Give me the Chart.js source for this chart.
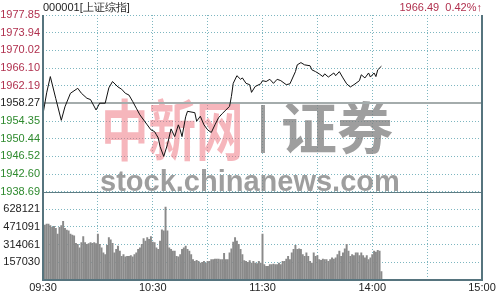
<!DOCTYPE html>
<html>
<head>
<meta charset="utf-8">
<script src="https://cdn.jsdelivr.net/npm/chart.js@4.4.1/dist/chart.umd.min.js"></script>
<style>
  html, body { margin: 0; padding: 0; background: #fff; }
  #wrap { position: relative; width: 500px; height: 293px; overflow: hidden; }
  #c { position: absolute; left: 0; top: 0; }
  .hdr { position: absolute; top: 1px; font: 11px "Liberation Sans", Arial, sans-serif; white-space: pre; line-height: 13px; }
</style>
</head>
<body>
<div id="wrap">
  <canvas id="c" width="500" height="293"></canvas>
  <div class="hdr" style="left:43px;color:#222">000001[上证综指]</div>
  <div class="hdr" style="right:18px;color:#b0304e">1966.49  0.42%↑</div>
</div>
<script>
// axis ticks
const priceTicks = [1938.69, 1942.60, 1946.52, 1950.44, 1954.35, 1958.27, 1962.19, 1966.10, 1970.02, 1973.94, 1977.85];
const prevClose = 1958.27;
const volTicks = [0, 157030, 314061, 471091, 628121, 785151];
const volTickLabels = ['', '157030', '314061', '471091', '628121', ''];
const timeTicks = [0, 30, 60, 90, 120, 150, 180, 210, 240];
const timeLabels = ['09:30', '', '10:30', '', '11:30', '', '14:00', '', '15:00'];

// price line (minutes after 09:30, trading time)
const priceMinutes = [0, 2, 4, 7, 10, 12, 15, 19, 21, 24, 26, 29, 31, 34, 36, 38, 41, 43, 45, 47,
  49, 51, 53, 57, 59, 61, 62, 63, 64, 66, 68, 70, 72, 74, 75, 76, 78, 79, 83, 84,
  86, 88, 90, 92, 94, 96, 98, 100, 102, 103, 104, 106, 108, 109, 111, 113, 114, 116, 119, 120,
  122, 124, 126, 128, 130, 133, 135, 138, 139, 141, 143, 146, 147, 149, 151, 153, 154, 156, 159, 160,
  162, 164, 166, 168, 170, 173, 174, 176, 178, 179, 181, 182, 183, 185];
const priceValues = [1955.9, 1960.6, 1964.2, 1959.3, 1954.5, 1957.5, 1960.5, 1961.6, 1960.5, 1959.4,
  1959.1, 1956.8, 1958.3, 1958.3, 1961.7, 1963.1, 1961.9, 1961.4, 1960.5, 1960.1,
  1958.7, 1957.2, 1955.7, 1953.5, 1952.4, 1952.0, 1951.3, 1950.6, 1948.7, 1946.5,
  1949.1, 1952.6, 1950.9, 1953.5, 1952.4, 1950.9, 1955.3, 1956.5, 1956.2, 1954.3,
  1955.4, 1953.5, 1952.4, 1951.8, 1953.5, 1955.1, 1956.0, 1956.8, 1957.6, 1959.8,
  1962.7, 1964.4, 1963.6, 1963.9, 1962.7, 1962.4, 1960.7, 1962.0, 1962.6, 1963.3,
  1963.1, 1963.6, 1962.7, 1963.6, 1963.3, 1962.4, 1962.6, 1965.3, 1966.8, 1967.3,
  1966.8, 1966.6, 1965.7, 1965.3, 1964.8, 1964.2, 1964.8, 1964.1, 1965.0, 1964.4,
  1965.3, 1963.9, 1962.6, 1961.9, 1962.4, 1963.3, 1964.6, 1963.9, 1965.0, 1964.1,
  1965.0, 1964.2, 1965.7, 1966.5];

// volume per minute, in thousands (index = minute)
const volumesK = [498, 489, 498, 498, 483, 468, 477, 459, 408, 468,
  483, 522, 459, 444, 438, 408, 399, 393, 326, 317,
  287, 332, 387, 332, 317, 323, 332, 326, 332, 323,
  408, 317, 287, 242, 227, 308, 378, 356, 326, 242,
  272, 302, 257, 211, 227, 205, 211, 211, 217, 205,
  227, 242, 272, 287, 317, 368, 347, 378, 362, 387,
  338, 332, 287, 272, 347, 447, 438, 649, 438, 287,
  272, 257, 257, 211, 205, 227, 272, 287, 302, 272,
  257, 227, 181, 166, 175, 166, 151, 157, 166, 151,
  166, 166, 181, 181, 187, 187, 187, 181, 181, 236,
  181, 181, 242, 278, 338, 378, 347, 317, 272, 227,
  172, 166, 157, 172, 151, 166, 151, 145, 166, 151,
  408, 136, 121, 121, 136, 136, 142, 136, 136, 151,
  136, 166, 166, 187, 211, 181, 242, 272, 308, 272,
  278, 272, 227, 211, 242, 211, 166, 151, 242, 211,
  217, 181, 175, 187, 181, 181, 166, 181, 196, 187,
  196, 227, 257, 211, 242, 278, 317, 257, 211, 227,
  217, 242, 242, 217, 242, 217, 196, 217, 181, 196,
  227, 257, 248, 263, 257, 75];

const FONT = '"Liberation Sans", Arial, sans-serif';
const GRID = '#7db6c0';

// watermark, reference line and frame
const decor = {
  id: 'decor',
  beforeDatasetsDraw(chart) {
    const { ctx, chartArea: a, scales } = chart;
    ctx.save();
    // watermark
    ctx.fillStyle = 'rgba(238, 110, 122, 0.5)';
    ctx.font = 'bold 44px "Noto Sans CJK SC"';
    ctx.textBaseline = 'middle';
    ctx.save();
    ctx.translate(101, 130);
    ctx.scale(1.08, 1.5);
    ctx.fillText('中新网', 0, 0);
    ctx.restore();
    ctx.fillStyle = 'rgba(125, 125, 125, 0.75)';
    ctx.fillRect(261, 105, 4, 48);
    ctx.font = 'bold 56px "Noto Sans CJK SC"';
    ctx.fillText('证券', 281, 128);
    ctx.font = 'bold 29px "Liberation Sans", Arial, sans-serif';
    ctx.textBaseline = 'alphabetic';
    ctx.fillText('stock.chinanews.com', 100, 191);
    // previous close
    const yc = Math.round(scales.yp.getPixelForValue(prevClose));
    ctx.strokeStyle = '#a4acac';
    ctx.lineWidth = 2;
    ctx.beginPath(); ctx.moveTo(a.left, yc); ctx.lineTo(a.right, yc); ctx.stroke();
    // panel separator
    const ys = Math.round(scales.yp.bottom) + 0.5;
    ctx.strokeStyle = '#5f7d84';
    ctx.lineWidth = 1;
    ctx.beginPath(); ctx.moveTo(a.left, ys); ctx.lineTo(a.right, ys); ctx.stroke();
    ctx.restore();
  },
  afterDraw(chart) {
    const { ctx, chartArea: a } = chart;
    ctx.save();
    ctx.strokeStyle = '#56747e';
    ctx.lineWidth = 2;
    ctx.beginPath();
    ctx.moveTo(a.left, a.top); ctx.lineTo(a.left, a.bottom);
    ctx.lineTo(a.right, a.bottom); ctx.lineTo(a.right, a.top);
    ctx.stroke();
    ctx.restore();
  }
};

new Chart(document.getElementById('c'), {
  type: 'bar',
  data: {
    datasets: [{
      type: 'line',
      data: priceMinutes.map((m, i) => ({ x: m, y: priceValues[i] })),
      yAxisID: 'yp',
      borderColor: '#111',
      borderWidth: 1,
      pointRadius: 0,
      tension: 0
    }, {
      type: 'bar',
      data: volumesK.map((v, i) => ({ x: i, y: v * 1000 })),
      yAxisID: 'yv',
      backgroundColor: '#8a8a8a',
      barThickness: 1.3
    }]
  },
  options: {
    responsive: false,
    devicePixelRatio: 1,
    animation: false,
    layout: { padding: { top: 15, right: 18, left: 0, bottom: 0 } },
    plugins: { legend: { display: false }, tooltip: { enabled: false } },
    scales: {
      x: {
        type: 'linear', min: 0, max: 240, offset: false,
        afterBuildTicks: s => { s.ticks = timeTicks.map(v => ({ value: v })); },
        afterFit: s => { s.height = 13; },
        ticks: {
          callback: (v, i) => timeLabels[i], autoSkip: false, maxRotation: 0,
          padding: 1, color: '#222', font: { family: FONT, size: 11 }
        },
        grid: { color: GRID, drawTicks: false, offset: false },
        border: { display: false, dash: [1, 2] }
      },
      yv: {
        type: 'linear', position: 'left', stack: 'main', stackWeight: 1,
        min: 0, max: 785151,
        afterBuildTicks: s => { s.ticks = volTicks.map(v => ({ value: v })); },
        afterFit: s => { s.width = 43; },
        ticks: {
          callback: (v, i) => volTickLabels[i], autoSkip: false, padding: 3, color: '#222',
          font: { family: FONT, size: 11 }
        },
        grid: { color: GRID, drawTicks: false },
        border: { display: false, dash: [1, 2] }
      },
      yp: {
        type: 'linear', position: 'left', stack: 'main', stackWeight: 2,
        min: 1938.69, max: 1977.85,
        afterBuildTicks: s => { s.ticks = priceTicks.map(v => ({ value: v })); },
        afterFit: s => { s.width = 43; },
        ticks: {
          callback: v => v.toFixed(2), autoSkip: false, padding: 3, font: { family: FONT, size: 11 },
          color: c => c.tick.value > prevClose + 0.01 ? '#b0304e' : (c.tick.value < prevClose - 0.01 ? '#2e8a2e' : '#222')
        },
        grid: { color: c => Math.abs(c.tick.value - prevClose) < 0.01 ? 'rgba(0,0,0,0)' : GRID, drawTicks: false },
        border: { display: false, dash: [1, 2] }
      }
    }
  },
  plugins: [decor]
});
</script>
</body>
</html>
